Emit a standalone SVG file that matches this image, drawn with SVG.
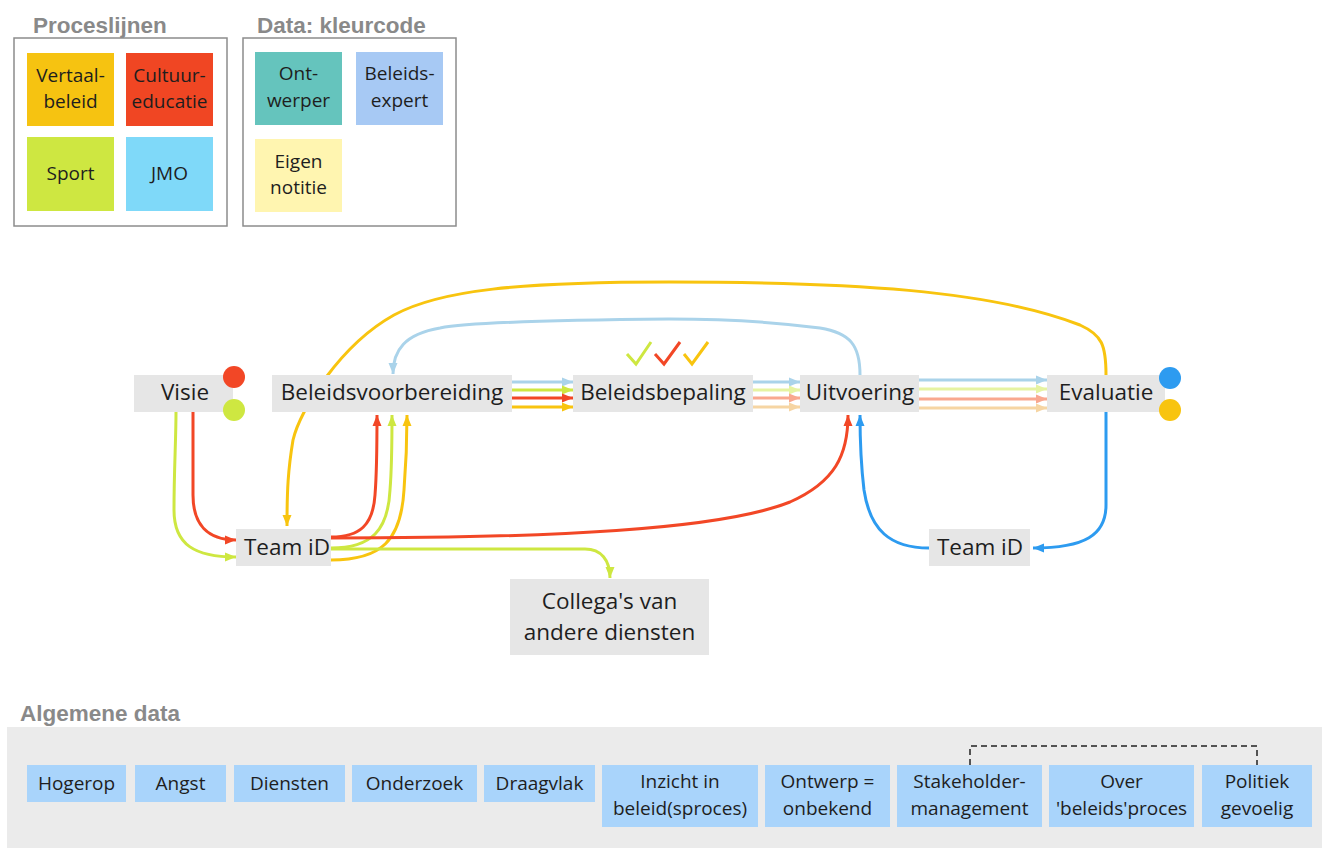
<svg xmlns="http://www.w3.org/2000/svg" width="1322" height="848" viewBox="0 0 1322 848">
  <style>
    .title { font-family: "Liberation Sans", Arial, sans-serif; font-weight: bold; font-size: 22.5px; fill: #898989; }
    .frame { fill: #ffffff; stroke: #8c8c8c; stroke-width: 1.5; }
    .sticky text { font-family: "Open Sans", "Noto Sans", sans-serif; font-size: 19px; fill: #1e1e1e; text-anchor: middle; }
    .node rect { fill: #e6e6e6; }
    .node text { font-family: "Open Sans", "Noto Sans", sans-serif; font-size: 22.5px; fill: #1e1e1e; text-anchor: middle; }
    .tag rect { fill: #a9d4fb; }
    .tag text { font-family: "Open Sans", "Noto Sans", sans-serif; font-size: 19px; fill: #1e1e1e; text-anchor: middle; }
    .c { fill: none; stroke-width: 3; }
    .red { stroke: #f24726; }
    .yel { stroke: #f8c40f; }
    .grn { stroke: #cee741; }
    .blu { stroke: #2d9bf0; }
    .lbl { stroke: #aad3ea; }
    .fgrn { stroke: #e6f3a2; }
    .fred { stroke: #f9a88f; }
    .fyel { stroke: #f6d5a3; }
  </style>
  <defs>
    <marker id="a-red" markerUnits="userSpaceOnUse" markerWidth="12" markerHeight="12" refX="11" refY="6" orient="auto"><path d="M0,1.5 L11,6 L0,10.5 z" fill="#f24726"/></marker>
    <marker id="a-yel" markerUnits="userSpaceOnUse" markerWidth="12" markerHeight="12" refX="11" refY="6" orient="auto"><path d="M0,1.5 L11,6 L0,10.5 z" fill="#f8c40f"/></marker>
    <marker id="a-grn" markerUnits="userSpaceOnUse" markerWidth="12" markerHeight="12" refX="11" refY="6" orient="auto"><path d="M0,1.5 L11,6 L0,10.5 z" fill="#cee741"/></marker>
    <marker id="a-blu" markerUnits="userSpaceOnUse" markerWidth="12" markerHeight="12" refX="11" refY="6" orient="auto"><path d="M0,1.5 L11,6 L0,10.5 z" fill="#2d9bf0"/></marker>
    <marker id="a-lbl" markerUnits="userSpaceOnUse" markerWidth="12" markerHeight="12" refX="11" refY="6" orient="auto"><path d="M0,1.5 L11,6 L0,10.5 z" fill="#aad3ea"/></marker>
    <marker id="a-fgrn" markerUnits="userSpaceOnUse" markerWidth="12" markerHeight="12" refX="11" refY="6" orient="auto"><path d="M0,1.5 L11,6 L0,10.5 z" fill="#e6f3a2"/></marker>
    <marker id="a-fred" markerUnits="userSpaceOnUse" markerWidth="12" markerHeight="12" refX="11" refY="6" orient="auto"><path d="M0,1.5 L11,6 L0,10.5 z" fill="#f9a88f"/></marker>
    <marker id="a-fyel" markerUnits="userSpaceOnUse" markerWidth="12" markerHeight="12" refX="11" refY="6" orient="auto"><path d="M0,1.5 L11,6 L0,10.5 z" fill="#f6d5a3"/></marker>
  </defs>

  <rect width="1322" height="848" fill="#ffffff"/>

  <!-- Legend: process lines -->
  <g id="legend-proceslijnen">
    <text class="title" x="33" y="33">Proceslijnen</text>
    <rect class="frame" x="14" y="38" width="213" height="188"/>
    <g class="sticky">
      <rect x="27" y="53" width="87" height="73" fill="#f6c311"/>
      <text x="70.5" y="82">Vertaal-</text><text x="70.5" y="108">beleid</text>
      <rect x="126" y="53" width="87" height="73" fill="#f04623"/>
      <text x="169.5" y="82">Cultuur-</text><text x="169.5" y="108">educatie</text>
      <rect x="27" y="137" width="87" height="74" fill="#cee741"/>
      <text x="70.5" y="180">Sport</text>
      <rect x="126" y="137" width="87" height="74" fill="#7fd9f9"/>
      <text x="169.5" y="180">JMO</text>
    </g>
  </g>

  <!-- Legend: data colour code -->
  <g id="legend-kleurcode">
    <text class="title" x="257" y="33">Data: kleurcode</text>
    <rect class="frame" x="243" y="38" width="213" height="188"/>
    <g class="sticky">
      <rect x="255" y="52" width="87" height="73" fill="#65c4bd"/>
      <text x="298.5" y="80">Ont-</text><text x="298.5" y="107">werper</text>
      <rect x="356" y="52" width="87" height="73" fill="#a7c9f4"/>
      <text x="399.5" y="80">Beleids-</text><text x="399.5" y="107">expert</text>
      <rect x="255" y="139" width="87" height="73" fill="#fff5b0"/>
      <text x="298.5" y="168">Eigen</text><text x="298.5" y="194">notitie</text>
    </g>
  </g>

  <!-- Connectors -->
  <g id="connectors">
    <!-- long feedback loops -->
    <path class="c yel" d="M1106,375 C1106,345 1102,335 1080,325 C990,290 850,282 669,282 C520,282 440,290 394,315 C340,345 300,410 293,440 C288,470 287,490 287,526" marker-end="url(#a-yel)"/>
    <path class="c lbl" d="M860,375 C860,345 850,333 820,328 C760,320 700,319 669,319 C560,320 470,322 440,328 C405,334 393,350 393,374" marker-end="url(#a-lbl)"/>

    <!-- Beleidsvoorbereiding -> Beleidsbepaling -->
    <path class="c lbl" d="M512,382 L573,382" marker-end="url(#a-lbl)"/>
    <path class="c grn" d="M512,390 L573,390" marker-end="url(#a-grn)"/>
    <path class="c red" d="M512,398 L573,398" marker-end="url(#a-red)"/>
    <path class="c yel" d="M512,407 L573,407" marker-end="url(#a-yel)"/>

    <!-- Beleidsbepaling -> Uitvoering -->
    <path class="c lbl" d="M753,382 L800,382" marker-end="url(#a-lbl)"/>
    <path class="c fgrn" d="M753,390 L800,390" marker-end="url(#a-fgrn)"/>
    <path class="c fred" d="M753,398 L800,398" marker-end="url(#a-fred)"/>
    <path class="c fyel" d="M753,407 L800,407" marker-end="url(#a-fyel)"/>

    <!-- Uitvoering -> Evaluatie -->
    <path class="c lbl" d="M919,380 L1047,380" marker-end="url(#a-lbl)"/>
    <path class="c fgrn" d="M919,389 L1047,389" marker-end="url(#a-fgrn)"/>
    <path class="c fred" d="M919,399 L1047,399" marker-end="url(#a-fred)"/>
    <path class="c fyel" d="M919,408 L1047,408" marker-end="url(#a-fyel)"/>

    <!-- Visie -> Team iD -->
    <path class="c red" d="M193,412 L193,495 C193,525 208,540 236,540" marker-end="url(#a-red)"/>
    <path class="c grn" d="M176,412 C176,440 174,470 174,510 C174,545 195,557 236,557" marker-end="url(#a-grn)"/>

    <!-- Team iD -> Beleidsvoorbereiding -->
    <path class="c red" d="M331,537 C360,537 373,525 375,495 C377,470 377,440 377,415" marker-end="url(#a-red)"/>
    <path class="c grn" d="M331,548 C372,548 388,530 390,490 C392,465 392,440 392,415" marker-end="url(#a-grn)"/>
    <path class="c yel" d="M331,560 C382,560 401,540 404,490 C406,465 407,440 407,415" marker-end="url(#a-yel)"/>

    <!-- Team iD -> Uitvoering -->
    <path class="c red" d="M331,538 C550,538 720,530 790,502 C835,482 848,455 848,415" marker-end="url(#a-red)"/>

    <!-- Team iD -> Collega's van andere diensten -->
    <path class="c grn" d="M331,549 L585,549 C601,549 610,560 610,578" marker-end="url(#a-grn)"/>

    <!-- Team iD (evaluatie) loop -->
    <path class="c blu" d="M929,548 C890,548 870,530 864,490 C861,465 860,440 860,415" marker-end="url(#a-blu)"/>
    <path class="c blu" d="M1106,412 L1106,505 C1106,535 1085,548 1033,548" marker-end="url(#a-blu)"/>
  </g>

  <!-- Process nodes -->
  <g id="visie" class="node">
    <rect x="134" y="375" width="99" height="37"/>
    <text x="185" y="400">Visie</text>
    <circle cx="234" cy="377" r="11" fill="#f24726"/>
    <circle cx="234" cy="410" r="11" fill="#cee741"/>
  </g>
  <g id="beleidsvoorbereiding" class="node">
    <rect x="272" y="375" width="240" height="37"/>
    <text x="392" y="400">Beleidsvoorbereiding</text>
  </g>
  <g id="beleidsbepaling" class="node">
    <rect x="573" y="375" width="180" height="37"/>
    <text x="663" y="400">Beleidsbepaling</text>
  </g>
  <g id="uitvoering" class="node">
    <rect x="800" y="375" width="119" height="37"/>
    <text x="860" y="400">Uitvoering</text>
  </g>
  <g id="evaluatie" class="node">
    <rect x="1047" y="375" width="118" height="37"/>
    <text x="1106" y="400">Evaluatie</text>
    <circle cx="1170" cy="378" r="11" fill="#2d9bf0"/>
    <circle cx="1170" cy="410" r="11" fill="#f8c40f"/>
  </g>
  <g id="team-id-1" class="node">
    <rect x="236" y="529" width="95" height="37"/>
    <text x="287" y="555">Team iD</text>
  </g>
  <g id="team-id-2" class="node">
    <rect x="929" y="529" width="101" height="37"/>
    <text x="980" y="555">Team iD</text>
  </g>
  <g id="collegas" class="node">
    <rect x="510" y="579" width="199" height="76"/>
    <text x="609.5" y="609">Collega's van</text>
    <text x="609.5" y="640">andere diensten</text>
  </g>

  <!-- Checkmarks above Beleidsbepaling -->
  <g id="checks" fill="none" stroke-width="3">
    <polyline points="627,354 636,364 651,342" stroke="#cee741"/>
    <polyline points="655,354 664,364 680,342" stroke="#f24726"/>
    <polyline points="684,354 692,364 708,342" stroke="#f8c40f"/>
  </g>

  <!-- General data -->
  <g id="algemene-data">
    <text class="title" x="20" y="721">Algemene data</text>
    <rect x="7" y="727" width="1315" height="121" fill="#ebebeb"/>
    <path d="M970,765 L970,746 L1257,746 L1257,765" fill="none" stroke="#222" stroke-width="1.5" stroke-dasharray="6,4"/>
    <g id="tag-hogerop" class="tag"><rect x="27" y="765" width="99" height="37"/><text x="76.5" y="790">Hogerop</text></g>
    <g id="tag-angst" class="tag"><rect x="135" y="765" width="91" height="37"/><text x="180.5" y="790">Angst</text></g>
    <g id="tag-diensten" class="tag"><rect x="234" y="765" width="111" height="37"/><text x="289.5" y="790">Diensten</text></g>
    <g id="tag-onderzoek" class="tag"><rect x="352" y="765" width="125" height="37"/><text x="414.5" y="790">Onderzoek</text></g>
    <g id="tag-draagvlak" class="tag"><rect x="484" y="765" width="111" height="37"/><text x="539.5" y="790">Draagvlak</text></g>
    <g id="tag-inzicht" class="tag"><rect x="602" y="765" width="156" height="62"/><text x="680" y="788">Inzicht in</text><text x="680" y="815">beleid(sproces)</text></g>
    <g id="tag-ontwerp" class="tag"><rect x="765" y="765" width="125" height="62"/><text x="827.5" y="788">Ontwerp =</text><text x="827.5" y="815">onbekend</text></g>
    <g id="tag-stakeholder" class="tag"><rect x="897" y="765" width="145" height="62"/><text x="969.5" y="788">Stakeholder-</text><text x="969.5" y="815">management</text></g>
    <g id="tag-over" class="tag"><rect x="1049" y="765" width="145" height="62"/><text x="1121.5" y="788">Over</text><text x="1121.5" y="815">'beleids'proces</text></g>
    <g id="tag-politiek" class="tag"><rect x="1202" y="765" width="110" height="62"/><text x="1257" y="788">Politiek</text><text x="1257" y="815">gevoelig</text></g>
  </g>
</svg>
